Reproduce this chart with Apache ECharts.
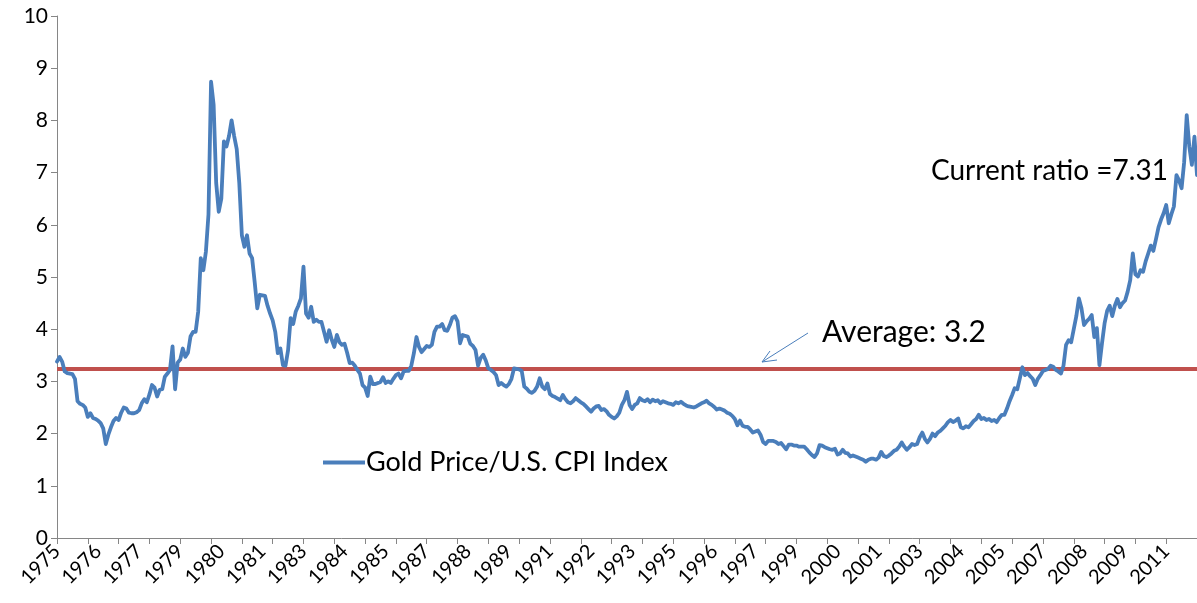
<!DOCTYPE html>
<html>
<head>
<meta charset="utf-8">
<title>Gold Price / U.S. CPI Index</title>
<script src="https://cdn.jsdelivr.net/npm/echarts@6/dist/echarts.min.js"></script>
<style>
  html, body { margin: 0; padding: 0; background: #fff; }
  #chart { width: 1197px; height: 603px; }
</style>
</head>
<body>
<div id="chart"></div>
<script>
// monthly gold price / CPI ratio (Jan 1975 .. Jan 2012)
var ratio70s = [
  3.38, 3.47, 3.38, 3.19, 3.16, 3.15, 3.14, 3.05, 2.62, 2.57, 2.55, 2.50,
  2.32, 2.39, 2.30, 2.28, 2.25, 2.20, 2.10, 1.80, 1.98, 2.12, 2.24, 2.30,
  2.26, 2.40, 2.50, 2.48, 2.40, 2.39, 2.39, 2.41, 2.45, 2.58, 2.66, 2.60,
  2.75, 2.93, 2.88, 2.71, 2.84, 2.85, 3.09, 3.15, 3.22, 3.67, 2.85, 3.36,
  3.42, 3.63, 3.47, 3.55, 3.86, 3.95, 3.95, 4.34, 5.36, 5.13, 5.49, 6.20
]
var ratio80s = [
  8.74, 8.30, 6.80, 6.25, 6.50, 7.60, 7.50, 7.70, 8.00, 7.70, 7.45, 6.80,
  5.80, 5.58, 5.80, 5.45, 5.36, 4.90, 4.40, 4.66, 4.65, 4.64, 4.45, 4.30,
  4.17, 3.95, 3.54, 3.63, 3.31, 3.30, 3.60, 4.21, 4.10, 4.34, 4.45, 4.59,
  5.20, 4.30, 4.22, 4.43, 4.14, 4.18, 4.14, 4.14, 3.95, 3.76, 3.98, 3.80,
  3.66, 3.89, 3.75, 3.70, 3.72, 3.55, 3.35, 3.36, 3.30, 3.22, 3.15, 2.93,
  2.88, 2.72, 3.09, 2.95, 2.95, 2.97, 2.99, 3.08, 2.97, 3.00, 2.97, 3.05,
  3.12, 3.15, 3.06, 3.19, 3.20, 3.20, 3.30, 3.54, 3.85, 3.66, 3.56, 3.62,
  3.68, 3.66, 3.70, 3.95, 4.05, 4.05, 4.10, 3.98, 3.97, 4.08, 4.22, 4.25,
  4.15, 3.73, 3.89, 3.87, 3.86, 3.72, 3.68, 3.60, 3.30, 3.45, 3.51, 3.40,
  3.25, 3.22, 3.18, 3.12, 2.93, 2.97, 2.93, 2.90, 2.95, 3.05, 3.25, 3.24
]
var ratio90s = [
  3.23, 3.20, 2.90, 2.86, 2.80, 2.78, 2.82, 2.90, 3.06, 2.90, 2.85, 2.96,
  2.76, 2.72, 2.70, 2.67, 2.64, 2.74, 2.66, 2.60, 2.58, 2.62, 2.68, 2.64,
  2.60, 2.57, 2.52, 2.47, 2.42, 2.48, 2.52, 2.53, 2.45, 2.47, 2.43, 2.36,
  2.32, 2.29, 2.33, 2.40, 2.55, 2.64, 2.80, 2.55, 2.47, 2.55, 2.58, 2.68,
  2.64, 2.62, 2.66, 2.60, 2.65, 2.62, 2.64, 2.58, 2.62, 2.60, 2.58, 2.57,
  2.55, 2.60, 2.58, 2.61, 2.57, 2.54, 2.52, 2.51, 2.50, 2.52, 2.55, 2.58,
  2.60, 2.63, 2.58, 2.55, 2.51, 2.46, 2.48, 2.46, 2.44, 2.40, 2.38, 2.34,
  2.28, 2.16, 2.25, 2.15, 2.13, 2.13, 2.08, 2.02, 2.04, 2.06, 1.98, 1.84,
  1.80, 1.86, 1.86, 1.86, 1.84, 1.80, 1.82, 1.76, 1.70, 1.79, 1.79, 1.77,
  1.77, 1.75, 1.75, 1.75, 1.70, 1.64, 1.59, 1.55, 1.62, 1.78, 1.77, 1.74
]
var ratio00s = [
  1.72, 1.70, 1.69, 1.71, 1.60, 1.62, 1.69, 1.63, 1.62, 1.56, 1.58, 1.56,
  1.54, 1.52, 1.50, 1.46, 1.50, 1.52, 1.52, 1.50, 1.54, 1.65, 1.57, 1.55,
  1.58, 1.62, 1.67, 1.69, 1.75, 1.83, 1.75, 1.69, 1.74, 1.80, 1.78, 1.80,
  1.93, 2.02, 1.90, 1.83, 1.90, 2.00, 1.95, 2.02, 2.05, 2.10, 2.15, 2.22,
  2.26, 2.22, 2.25, 2.29, 2.12, 2.10, 2.14, 2.12, 2.18, 2.24, 2.28, 2.36,
  2.28, 2.30, 2.26, 2.28, 2.24, 2.26, 2.22, 2.30, 2.36, 2.36, 2.48, 2.62,
  2.74, 2.87, 2.85, 3.06, 3.27, 3.12, 3.16, 3.10, 3.05, 2.93, 3.05, 3.12,
  3.20, 3.22, 3.24, 3.30, 3.28, 3.22, 3.19, 3.15, 3.30, 3.70, 3.79, 3.75,
  4.00, 4.25, 4.59, 4.40, 4.08, 4.15, 4.20, 4.27, 3.85, 4.02, 3.31, 3.73,
  4.11, 4.35, 4.45, 4.25, 4.45, 4.58, 4.42, 4.50, 4.55, 4.72, 4.94, 5.45
]
var ratio10s = [
  5.05, 5.01, 5.13, 5.10, 5.30, 5.45, 5.60, 5.50, 5.72, 5.95, 6.10, 6.22,
  6.38, 6.03, 6.20, 6.35, 6.95, 6.85, 6.70, 7.20, 8.10, 7.50, 7.15, 7.69,
  6.95
]
var averageRatio = 3.24
var yTicks = [0, 1, 2, 3, 4, 5, 6, 7, 8, 9, 10]

var ratio = ratio70s.concat(ratio80s, ratio90s, ratio00s, ratio10s)

// one category per month, Jan 1975 onwards
var months = []
for (var i = 0; i < ratio.length; i++) {
  var yr = 1975 + Math.floor(i / 12)
  var mo = (i % 12) + 1
  months.push(yr + '-' + (mo < 10 ? '0' + mo : mo))
}

var chart = echarts.init(document.getElementById('chart'))
var font = 'Lato, "Open Sans", sans-serif'

chart.setOption({
  animation: false,
  textStyle: { fontFamily: font },
  grid: { left: 57, right: 0, top: 16, bottom: 65, containLabel: false },
  legend: {
    left: 318,
    top: 444,
    icon: 'rect',
    itemWidth: 42,
    itemHeight: 4,
    itemGap: 0,
    textStyle: { fontSize: 27, color: '#000', fontFamily: font, padding: [0, 0, 0, -4] },
    data: ['Gold Price/U.S. CPI Index']
  },
  xAxis: {
    type: 'category',
    data: months,
    boundaryGap: false,
    axisLine: { lineStyle: { color: '#868686', width: 1 } },
    axisTick: { show: true, interval: 11, length: 6, lineStyle: { color: '#868686' } },
    axisLabel: {
      interval: 15,
      rotate: 45,
      margin: 10,
      fontSize: 20,
      color: '#000',
      formatter: function (v) { return v.slice(0, 4) }
    },
    splitLine: { show: false }
  },
  yAxis: {
    type: 'value',
    min: yTicks[0],
    max: yTicks[yTicks.length - 1],
    interval: 1,
    axisLine: { show: true, lineStyle: { color: '#868686', width: 1 } },
    axisTick: { show: true, length: 6, lineStyle: { color: '#868686' } },
    axisLabel: { fontSize: 21, color: '#000', margin: 9 },
    splitLine: { show: false }
  },
  series: [
    {
      name: 'Gold Price/U.S. CPI Index',
      type: 'line',
      data: ratio,
      showSymbol: false,
      symbol: 'none',
      lineStyle: { color: '#4A7EBB', width: 3.8, cap: 'round', join: 'round' },
      itemStyle: { color: '#4A7EBB' },
      z: 3,
      markLine: {
        silent: true,
        symbol: 'none',
        label: { show: false },
        lineStyle: { color: '#C0504D', width: 4, type: 'solid' },
        data: [{ yAxis: averageRatio }],
        z: 2
      }
    }
  ],
  graphic: [
    {
      type: 'text',
      left: 931,
      top: 157,
      style: { text: 'Current ratio =7.31', fontSize: 28, fill: '#000', fontFamily: font }
    },
    {
      type: 'text',
      left: 822,
      top: 317,
      style: { text: 'Average: 3.2', fontSize: 30, fill: '#000', fontFamily: font }
    },
    // arrow pointing at the average line
    {
      type: 'line',
      shape: { x1: 808, y1: 333, x2: 762, y2: 362 },
      style: { stroke: '#4A7EBB', lineWidth: 1 }
    },
    {
      type: 'polyline',
      shape: { points: [[777, 360], [762, 362], [770, 351]] },
      style: { stroke: '#4A7EBB', lineWidth: 1, fill: null }
    }
  ]
})
</script>
</body>
</html>
